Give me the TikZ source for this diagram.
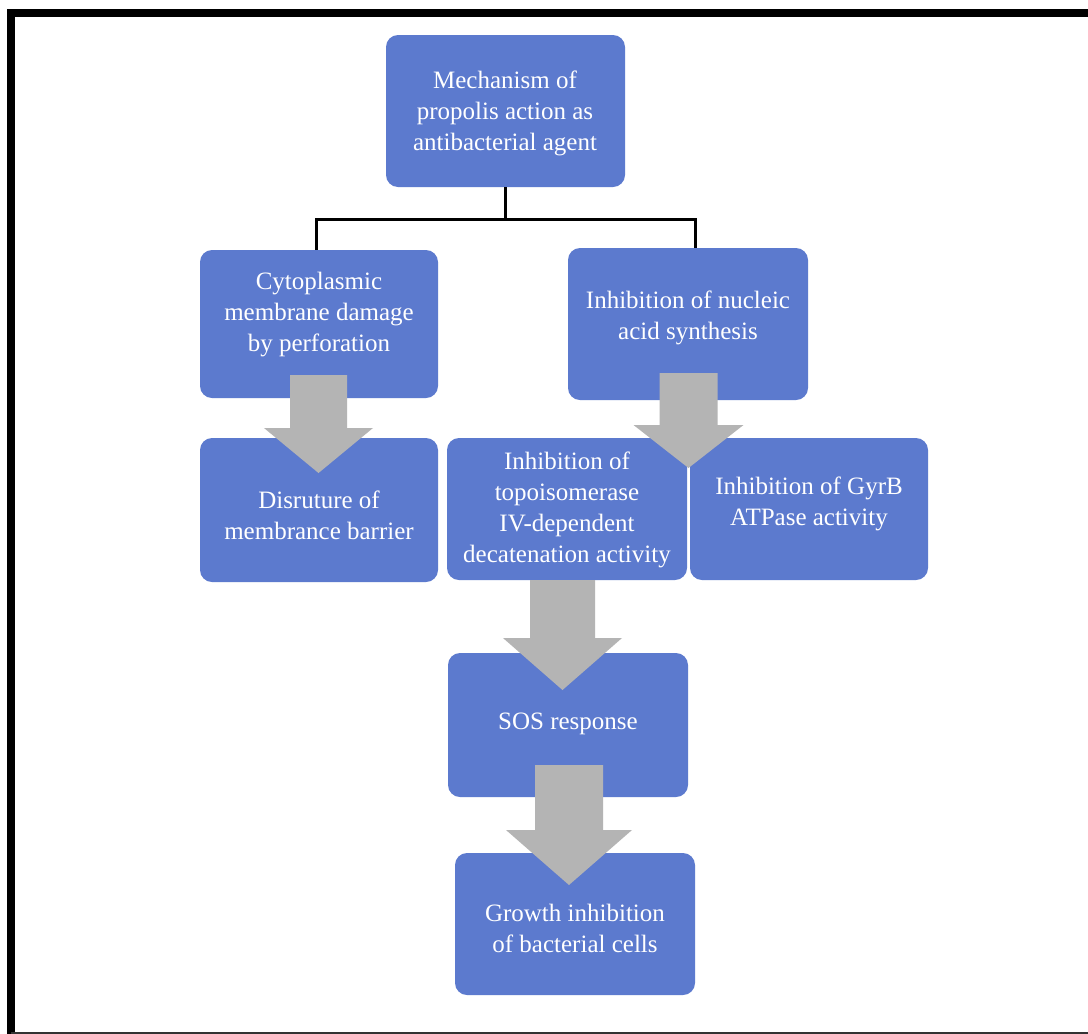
\documentclass[tikz,border=0pt]{standalone}
\usepackage{fontspec}
\setmainfont{Liberation Serif}
\usetikzlibrary{calc}
\definecolor{boxblue}{RGB}{92,122,206}
\definecolor{arrowgray}{RGB}{180,180,180}
\begin{document}
\begin{tikzpicture}[x=1pt,y=-1pt,
  box/.style={draw=none, fill=boxblue, rounded corners=12pt, inner sep=0pt},
  txt/.style={text=white, align=center, font=\fontsize{25}{31}\selectfont, inner sep=0pt},
  barrow/.style={fill=arrowgray, draw=none},
  conn/.style={draw=black, line width=3pt}]
\useasboundingbox (0,0) rectangle (1088,1034);
\fill[white] (0,0) rectangle (1088,1034);
% frame
\draw[line width=8pt] (1088,13) -- (11,13) -- (11,1034);
\draw[line width=2pt, black!80] (11,1033) -- (1088,1033);
% boxes
\node[box, minimum width=239, minimum height=152] (top) at (505.5,111) {};
\node[box, minimum width=238, minimum height=148] (cyto) at (319,324) {};
\node[box, minimum width=240, minimum height=152] (nuc) at (688,324) {};
\node[box, minimum width=238, minimum height=144] (disr) at (319,510) {};
\node[box, minimum width=240, minimum height=142] (topo) at (567,509) {};
\node[box, minimum width=238, minimum height=142] (gyr) at (809,509) {};
\node[box, minimum width=240, minimum height=144] (sos) at (568,725) {};
\node[box, minimum width=240, minimum height=142] (grow) at (575,924) {};
% texts
\node[txt] (topt) at (505,113) {Mechanism of\\propolis action as\\antibacterial agent};
\node[txt] (cytot) at (319,315) {Cytoplasmic\\membrane damage\\by perforation};
\node[txt] (nuct) at (688,318) {Inhibition of nucleic\\acid synthesis};
\node[txt] (disrt) at (319,515) {Disruture of\\membrance barrier};
\node[txt] (topot) at (567,510) {Inhibition of\\topoisomerase\\IV-dependent\\decatenation activity};
\node[txt] (gyrt) at (809,504) {Inhibition of GyrB\\ATPase activity};
\node[txt] (sost) at (568,724) {SOS response};
\node[txt] (growt) at (575,928) {Growth inhibition\\of bacterial cells};
% connectors
\draw[conn] (top.south) -- ($(top.south)+(0,32)$) -| ([xshift=-3]cyto.north);
\draw[conn] ($(top.south)+(0,32)$) -| ([xshift=7]nuc.north);
% block arrows
\fill[barrow] (290,375) -- (347,375) -- (347,428) -- (373,428) -- (318.5,473) -- (264,428) -- (290,428) -- cycle;
\fill[barrow] (659.5,373) -- (717.5,373) -- (717.5,425) -- (743.5,425) -- (688.5,468) -- (633.5,425) -- (659.5,425) -- cycle;
\fill[barrow] (530,580) -- (595,580) -- (595,638) -- (622,638) -- (562.5,690) -- (503,638) -- (530,638) -- cycle;
\fill[barrow] (535,765) -- (603,765) -- (603,830) -- (632,830) -- (569,885) -- (506,830) -- (535,830) -- cycle;
\end{tikzpicture}
\end{document}
